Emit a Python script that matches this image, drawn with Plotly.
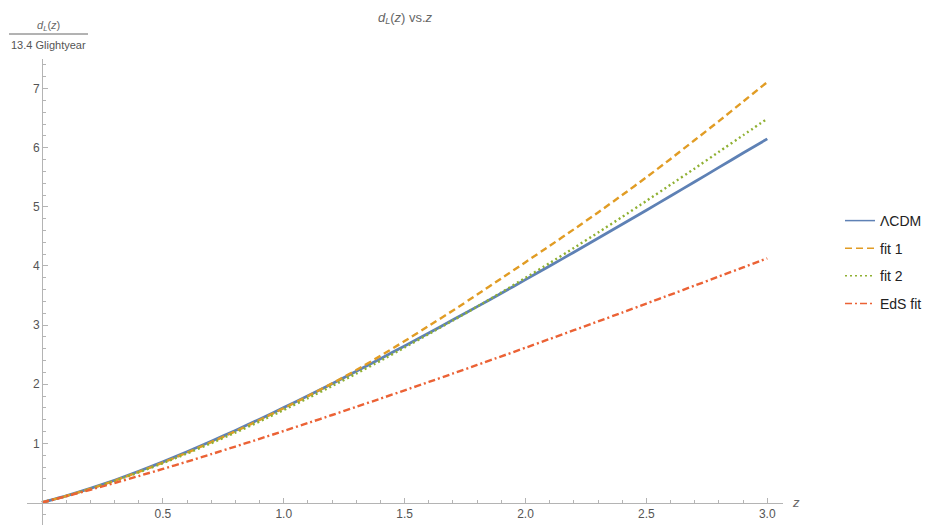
import plotly.graph_objects as go

z = [0.0, 0.1, 0.2, 0.3, 0.4, 0.5, 0.6, 0.7, 0.8, 0.9, 1.0, 1.1, 1.2, 1.3, 1.4, 1.5,
     1.6, 1.7, 1.8, 1.9, 2.0, 2.1, 2.2, 2.3, 2.4, 2.5, 2.6, 2.7, 2.8, 2.9, 3.0]

lcdm = [0, 0.112, 0.238, 0.377, 0.528, 0.688, 0.858, 1.035, 1.219, 1.409, 1.605,
        1.805, 2.010, 2.219, 2.432, 2.648, 2.867, 3.089, 3.313, 3.540, 3.769,
        4.000, 4.233, 4.468, 4.705, 4.943, 5.183, 5.424, 5.667, 5.911, 6.150]

fit1 = [0, 0.110, 0.233, 0.369, 0.517, 0.675, 0.843, 1.020, 1.204, 1.396, 1.595,
        1.800, 2.015, 2.240, 2.480, 2.730, 2.987, 3.248, 3.516, 3.790, 4.065,
        4.340, 4.620, 4.905, 5.200, 5.500, 5.810, 6.130, 6.450, 6.780, 7.110]

fit2 = [0, 0.108, 0.230, 0.365, 0.510, 0.665, 0.830, 1.003, 1.183, 1.370, 1.565,
        1.765, 1.970, 2.180, 2.397, 2.622, 2.850, 3.080, 3.313, 3.553, 3.800,
        4.050, 4.305, 4.565, 4.830, 5.100, 5.375, 5.650, 5.930, 6.210, 6.490]

eds = [0, 0.106, 0.216, 0.330, 0.448, 0.568, 0.692, 0.818, 0.947, 1.077, 1.210,
       1.344, 1.480, 1.618, 1.757, 1.897, 2.039, 2.182, 2.327, 2.472, 2.618,
       2.766, 2.914, 3.063, 3.213, 3.364, 3.516, 3.668, 3.822, 3.975, 4.130]

names = ["\u039bCDM", "fit 1", "fit 2", "EdS fit"]
colors = ["#5E81B5", "#E19C24", "#8FB032", "#EB6235"]
dashes = ["solid", "7px,4px", "2px,3px", "7px,3px,2px,3px"]
series = [lcdm, fit1, fit2, eds]

# page offset (default body margin) and geometry in window pixels
OFF = 8
W, H = 939 - OFF, 530 - OFF
L, R, T, B = 27 - OFF, 156, 59 - OFF, 5
pw, ph = W - L - R, H - T - B
def px(x):  # window pixel x -> paper
    return (x - OFF - L) / pw
def py(y):  # window pixel y -> paper
    return (H - B - (y - OFF)) / ph

xr = [-0.062, 3.065]
yr = [-0.38, 7.5]

fig = go.Figure()
widths = [2.8, 2.4, 2.4, 2.4]
for n, c, d, s, w in zip(names, colors, dashes, series, widths):
    fig.add_trace(go.Scatter(x=z, y=s, mode="lines", name=n, legendgroup=n,
                             showlegend=False, hoverinfo="skip",
                             line=dict(color=c, width=w, dash=d, shape="spline", smoothing=0.6)))
for n, c, d in zip(names, colors, dashes):
    fig.add_trace(go.Scatter(x=[None], y=[None], mode="lines", name=n, legendgroup=n,
                             showlegend=True, hoverinfo="skip",
                             line=dict(color=c, width=1.5, dash=d)))

axcol = "#b4b4b4"
fig.update_layout(
    width=W, height=H,
    margin=dict(l=L, r=R, t=T, b=B),
    paper_bgcolor="white", plot_bgcolor="white",
    font=dict(family="Liberation Sans, Arial, sans-serif", size=12, color="#555555"),
    title=dict(text="<i>d</i><sub><i>L</i></sub>(<i>z</i>) vs.<i>z</i>",
               x=0.5, xref="paper", xanchor="center", y=1 - 9.0 / H, yanchor="middle",
               font=dict(size=13, color="#666666")),
    xaxis=dict(range=xr, showgrid=False, zeroline=False, showline=True, linecolor=axcol,
               linewidth=1, anchor="free", position=(0 - yr[0]) / (yr[1] - yr[0]),
               tickmode="array", tickvals=[0.5, 1.0, 1.5, 2.0, 2.5, 3.0],
               ticktext=["0.5", "1.0", "1.5", "2.0", "2.5", "3.0"],
               ticks="inside", ticklen=5, tickcolor=axcol, tickwidth=1,
               tickfont=dict(size=12, color="#555555"),
               minor=dict(tickmode="array",
                          tickvals=[0.1, 0.2, 0.3, 0.4, 0.6, 0.7, 0.8, 0.9, 1.1, 1.2, 1.3, 1.4,
                                    1.6, 1.7, 1.8, 1.9, 2.1, 2.2, 2.3, 2.4, 2.6, 2.7, 2.8, 2.9],
                          ticks="inside", ticklen=3, tickcolor=axcol, tickwidth=1, showgrid=False)),
    yaxis=dict(range=yr, showgrid=False, zeroline=False, showline=True, linecolor=axcol,
               linewidth=1, anchor="free", position=(0 - xr[0]) / (xr[1] - xr[0]),
               tickmode="array", tickvals=[1, 2, 3, 4, 5, 6, 7],
               ticks="inside", ticklen=5, tickcolor=axcol, tickwidth=1,
               tickfont=dict(size=12, color="#555555"),
               minor=dict(tickmode="array",
                          tickvals=[-0.2, 0.2, 0.4, 0.6, 0.8, 1.2, 1.4, 1.6, 1.8, 2.2, 2.4, 2.6, 2.8,
                                    3.2, 3.4, 3.6, 3.8, 4.2, 4.4, 4.6, 4.8, 5.2, 5.4, 5.6, 5.8,
                                    6.2, 6.4, 6.6, 6.8, 7.2, 7.4],
                          ticks="inside", ticklen=3, tickcolor=axcol, tickwidth=1, showgrid=False)),
    legend=dict(x=px(840), xanchor="left", y=py(205), yanchor="top",
                font=dict(size=14, color="#222222"), tracegroupgap=6.4,
                bgcolor="rgba(0,0,0,0)", itemclick=False),
    showlegend=True,
)

fig.add_annotation(text="<i>z</i>", xref="paper", yref="y", x=px(796), y=0,
                   xanchor="center", yanchor="middle",
                   showarrow=False, font=dict(size=13, color="#666666"))
fig.add_annotation(text="<i>d</i><sub><i>L</i></sub>(<i>z</i>)", xref="paper", yref="paper",
                   x=px(48), y=py(26), xanchor="center", yanchor="middle",
                   showarrow=False, font=dict(size=11, color="#666666"))
fig.add_annotation(text="13.4 Glightyear", xref="paper", yref="paper",
                   x=px(48), y=py(45), xanchor="center", yanchor="middle",
                   showarrow=False, font=dict(size=11, color="#555555"))
fig.add_shape(type="line", xref="paper", yref="paper", x0=px(9), x1=px(88), y0=py(34), y1=py(34),
              line=dict(color="#666666", width=1))

fig.write_html("out.html")
